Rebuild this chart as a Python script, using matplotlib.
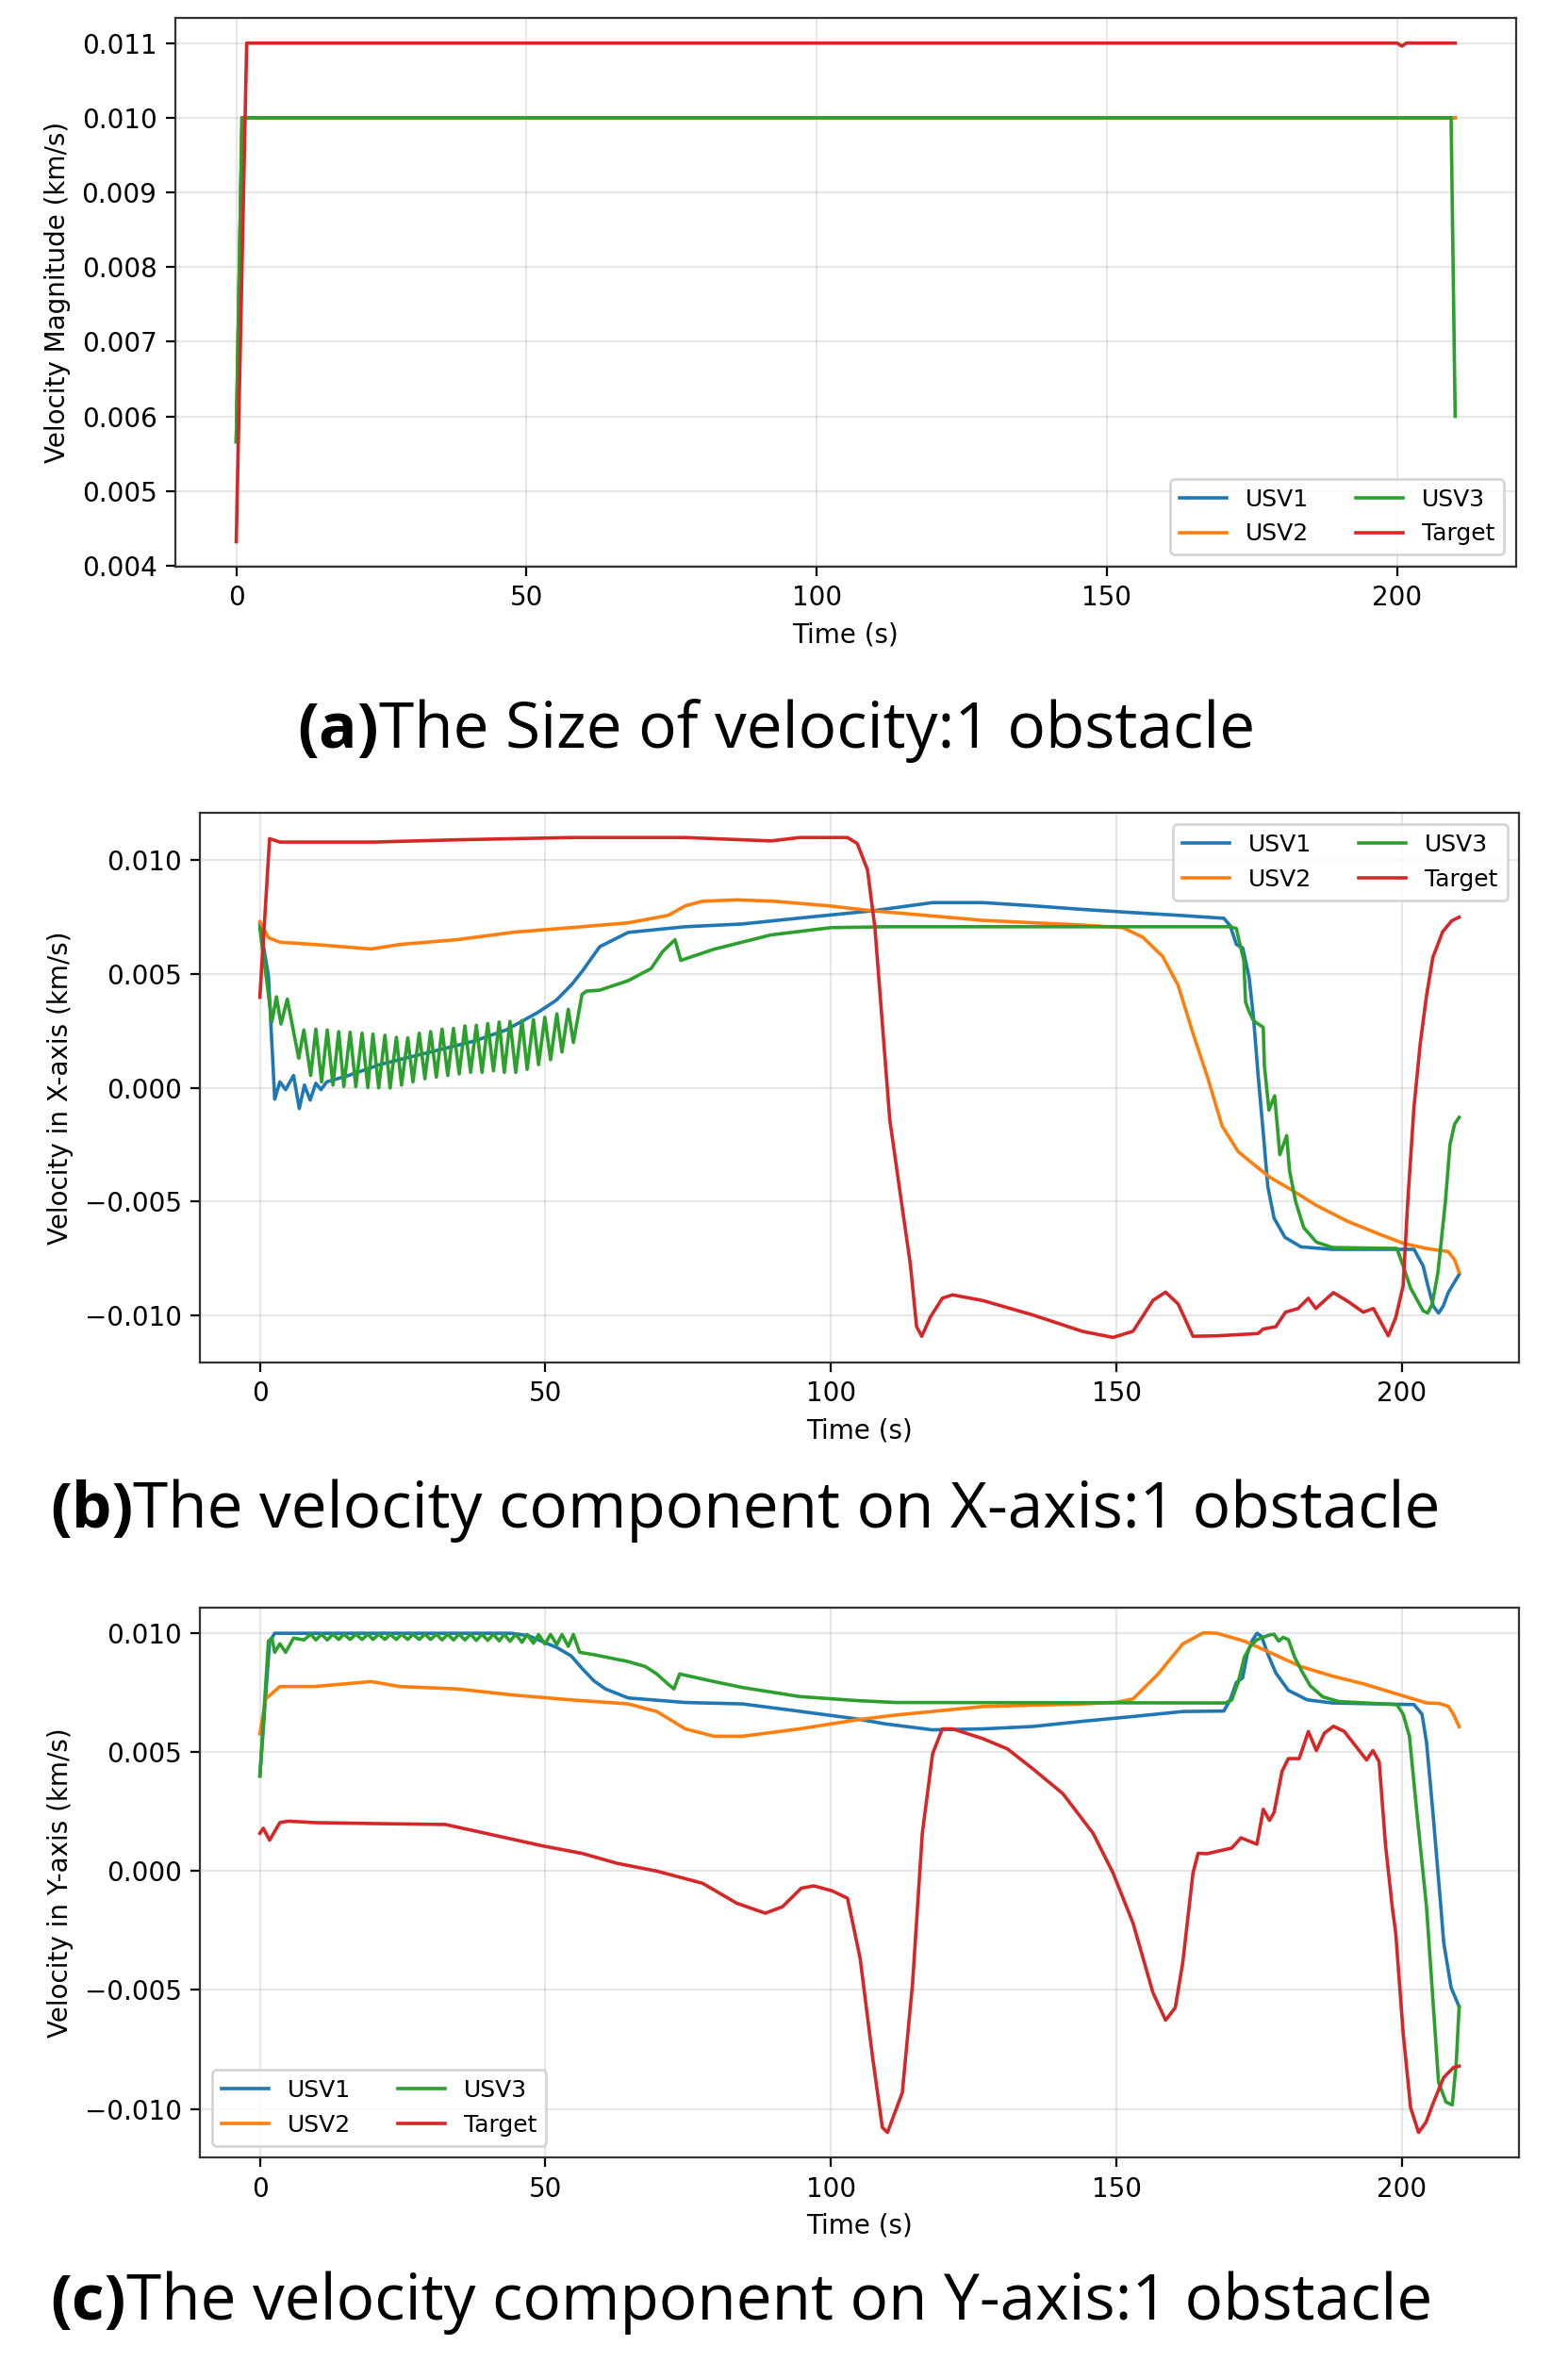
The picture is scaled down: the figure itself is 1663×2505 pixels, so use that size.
import matplotlib
matplotlib.use("Agg")
import matplotlib.pyplot as plt

# ---- data (velocities in km/s, time in s) ----

# (a) velocity magnitude
a_t_usv1 = [0, 1.0, 210.0]
a_v_usv1 = [0.00566, 0.0100, 0.0100]
a_t_usv2 = [0, 1.0, 210.0]
a_v_usv2 = [0.00566, 0.0100, 0.0100]
a_t_usv3 = [0, 1.0, 209.3, 210.0]
a_v_usv3 = [0.00566, 0.0100, 0.0100, 0.0060]
a_t_target = [0, 1.8, 200.0, 200.8, 201.6, 210.0]
a_v_target = [0.00432, 0.0110, 0.0110, 0.01096, 0.0110, 0.0110]

# (b) velocity on X axis
b_t_usv1 = [0, 1.5, 2.6, 3.5, 4.5, 5.9, 6.9, 7.8, 8.8, 9.8, 10.7, 11.7, 15.5, 21.0, 26.6,
            32.1, 37.6, 43.1, 48.6, 51.9, 54.6, 56.5, 59.5, 64.5, 74.5, 84.5, 94.5, 107.3,
            117.8, 126.6, 135.3, 144.1, 152.9, 161.6, 168.8, 169.9, 171.0, 172.1, 173.2,
            174.0, 174.8, 175.7, 176.5, 177.6, 179.5, 182.3, 187.8, 202.1, 203.7, 204.5,
            205.5, 206.4, 207.2, 208.1, 210.0]
b_v_usv1 = [0.0072, 0.0049, -0.0005, 0.00026, -0.00008, 0.00054, -0.00091, 0.00012,
            -0.00054, 0.0002, -0.00008, 0.00026, 0.00054, 0.00102, 0.00137, 0.00171,
            0.00206, 0.00254, 0.0033, 0.00385, 0.00454, 0.00514, 0.0062, 0.00683, 0.00708,
            0.0072, 0.00746, 0.00778, 0.00814, 0.00814, 0.0080, 0.00784, 0.0077, 0.00757,
            0.00745, 0.00713, 0.0063, 0.00615, 0.0049, 0.00308, 0.00056, -0.00196,
            -0.00434, -0.00573, -0.00657, -0.00699, -0.0071, -0.0071, -0.00783, -0.00867,
            -0.0096, -0.0099, -0.0096, -0.0090, -0.0082]

b_t_usv2 = [0, 1.5, 3.5, 9.5, 14.5, 19.5, 24.5, 34.5, 44.5, 54.5, 64.5, 71.5, 74.5, 77.5,
            83.5, 90.0, 99.5, 107.3, 126.6, 144.1, 151.1, 154.6, 158.1, 160.8, 163.4, 166.0,
            168.5, 171.3, 174.0, 176.8, 180.6, 185.0, 190.5, 196.0, 200.4, 204.3, 208.1,
            209.2, 210.0]
b_v_usv2 = [0.0073, 0.0066, 0.0064, 0.0063, 0.0062, 0.0061, 0.0063, 0.00651, 0.00684,
            0.00704, 0.00725, 0.00758, 0.0080, 0.0082, 0.00826, 0.0082, 0.0080, 0.00778,
            0.00736, 0.00715, 0.00704, 0.00662, 0.00577, 0.0045, 0.00239, 0.00042,
            -0.00168, -0.0028, -0.00336, -0.00392, -0.00448, -0.00517, -0.00587, -0.00643,
            -0.00685, -0.00706, -0.0072, -0.00755, -0.0081]

b_t_usv3 = [0, 1.2, 2.1, 2.9, 3.7, 4.8, 6.8,
            7.7, 8.9, 9.8, 10.8, 11.8, 12.8, 13.8, 14.7, 15.8, 16.8, 17.9, 18.9, 19.8, 20.8,
            21.9, 22.8, 23.9, 24.8, 25.9, 26.8, 27.9, 28.9, 29.9, 30.9, 31.9, 32.9, 33.9,
            34.9, 35.9, 36.9, 37.9, 38.9, 39.9, 40.9, 41.9, 42.8, 43.8, 44.8, 45.9, 46.8,
            47.9, 48.8, 49.9, 50.9, 52.0, 52.9, 54.0, 54.9,
            56.4, 57.2, 59.5, 64.5, 68.5, 70.5, 72.7, 73.7, 79.5, 89.5, 100.0, 110.0, 169.9,
            171.0, 171.5, 172.3, 172.6, 173.2, 174.0, 175.7, 175.9, 176.7, 177.7, 178.6,
            179.8, 180.3, 181.4, 182.8, 185.0, 187.8, 199.1, 200.2, 201.5, 203.7, 204.5,
            205.3, 206.3, 207.6, 208.4, 209.2, 210.0]
b_v_usv3 = [0.0070, 0.0047, 0.0029, 0.0040, 0.0028, 0.0039, 0.0013,
            0.00254, 0.00054, 0.00258, 0.00026, 0.00254, 0.00012, 0.00247, 0.00006,
            0.00244, 0.00005, 0.0024, 0.00001, 0.00236, 0.0, 0.00231, -0.00001, 0.00222,
            0.00012, 0.0022, 0.00026, 0.0024, 0.0004, 0.00247, 0.00047, 0.00258, 0.00054,
            0.00261, 0.00061, 0.00272, 0.00068, 0.00275, 0.00068, 0.00282, 0.00075,
            0.00289, 0.00068, 0.00292, 0.00068, 0.00296, 0.00081, 0.0030, 0.00102, 0.0031,
            0.00123, 0.00325, 0.00157, 0.00345, 0.00199,
            0.0041, 0.00425, 0.00429, 0.00471, 0.00524, 0.00598, 0.00651, 0.0056, 0.00609,
            0.00672, 0.00704, 0.00708, 0.00708, 0.0070, 0.00643, 0.0056, 0.00378, 0.00336,
            0.00294, 0.00266, 0.00098, -0.00098, -0.00035, -0.00294, -0.0021, -0.00364,
            -0.00503, -0.00615, -0.00678, -0.00702, -0.00706, -0.00783, -0.0088, -0.0098,
            -0.0099, -0.0095, -0.0081, -0.0050, -0.0025, -0.0016, -0.0013]

b_t_target = [0, 1.7, 3.5, 20.0, 34.5, 54.5, 74.5, 84.5, 89.5, 94.5, 102.9, 104.6, 106.4,
              107.7, 109.0, 110.3, 112.1, 113.9, 115.0, 115.9, 117.4, 119.5, 121.3, 126.6,
              135.3, 144.1, 149.4, 152.9, 156.4, 158.6, 160.8, 163.4, 167.6, 174.8, 175.7,
              177.9, 179.6, 181.8, 183.6, 184.9, 186.2, 188.0, 190.6, 193.2, 195.0, 196.3,
              197.6, 198.9, 200.2, 201.0, 202.1, 203.2, 204.3, 205.4, 207.1, 208.7, 210.0]
b_v_target = [0.00398, 0.01095, 0.0108, 0.0108, 0.0109, 0.0110, 0.0110, 0.0109, 0.01085,
              0.0110, 0.0110, 0.01074, 0.00958, 0.00704, 0.00282, -0.0014, -0.00459,
              -0.00775, -0.0105, -0.01092, -0.01008, -0.00925, -0.0091, -0.00935, -0.00998,
              -0.01071, -0.01097, -0.0107, -0.00934, -0.00898, -0.0095, -0.01092, -0.0109,
              -0.0108, -0.0106, -0.0105, -0.00986, -0.0097, -0.00925, -0.0097, -0.0094,
              -0.0090, -0.0094, -0.00986, -0.0097, -0.0103, -0.0109, -0.0101, -0.0087,
              -0.00503, -0.00084, 0.00196, 0.00406, 0.00573, 0.00685, 0.00734, 0.0075]

# (c) velocity on Y axis
c_t_usv1 = [0, 1.7, 2.6, 44.0, 47.0, 49.5, 52.0, 54.5, 56.5, 58.5, 60.5, 64.5, 74.5, 84.5,
            94.5, 104.5, 109.5, 117.8, 126.6, 135.3, 144.1, 152.9, 161.6, 168.8, 169.9,
            171.0, 172.1, 172.9, 173.7, 174.6, 175.4, 176.5, 177.9, 180.1, 183.4, 187.8,
            202.1, 203.5, 204.3, 205.4, 206.8, 207.3, 208.6, 210.0]
c_v_usv1 = [0.0040, 0.00965, 0.0100, 0.0100, 0.0099, 0.00965, 0.0094, 0.00905, 0.0085,
            0.0080, 0.00766, 0.00728, 0.00709, 0.00703, 0.00672, 0.0064, 0.00619, 0.00594,
            0.00598, 0.00608, 0.0063, 0.0065, 0.00671, 0.00673, 0.0072, 0.00793, 0.00813,
            0.00913, 0.00967, 0.0100, 0.00987, 0.00913, 0.00833, 0.0076, 0.0072, 0.00707,
            0.0070, 0.0066, 0.0054, 0.0025, -0.0015, -0.0030, -0.0049, -0.0057]

c_t_usv2 = [0, 1.0, 3.5, 9.5, 19.5, 24.5, 34.5, 44.5, 54.5, 64.5, 69.5, 74.5, 79.5, 84.5,
            94.5, 104.5, 111.3, 126.6, 144.1, 150.0, 152.9, 157.3, 161.6, 165.2, 167.6,
            172.4, 176.8, 182.3, 187.8, 193.3, 198.8, 204.3, 206.5, 208.1, 209.0, 210.0]
c_v_usv2 = [0.00577, 0.00724, 0.00776, 0.00776, 0.00797, 0.00776, 0.00766, 0.0074, 0.0072,
            0.00703, 0.00671, 0.00598, 0.00567, 0.00567, 0.00598, 0.00636, 0.00656, 0.00692,
            0.00703, 0.0071, 0.00724, 0.00829, 0.00955, 0.01002, 0.0100, 0.00967, 0.0092,
            0.0086, 0.0082, 0.00787, 0.00747, 0.00707, 0.00705, 0.00693, 0.0066, 0.00607]

c_t_usv3 = [0, 1.5, 2.1, 2.6, 3.5, 4.5, 5.9,
            7.7, 8.9, 9.8, 10.8, 11.8, 12.8, 13.8, 14.7, 15.8, 16.8, 17.9, 18.9, 19.8, 20.8,
            21.9, 22.8, 23.9, 24.8, 25.9, 26.8, 27.9, 28.9, 29.9, 30.9, 31.9, 32.9, 33.9,
            34.9, 35.9, 36.9, 37.9, 38.9, 39.9, 40.9, 41.9, 42.8, 43.8, 44.8, 45.9, 46.8,
            47.9, 48.8, 49.9, 50.9, 52.0, 52.9, 54.0, 54.9,
            56.0, 58.5, 64.5, 67.5, 69.5, 71.5, 72.5, 73.5, 79.5, 84.5, 94.5, 104.5, 111.3,
            169.1, 170.2, 171.3, 172.4, 173.5, 174.6, 176.8, 177.6, 178.4, 179.2, 180.1,
            181.2, 182.3, 183.9, 186.1, 188.9, 199.1, 200.2, 201.3, 202.6, 204.3, 206.4,
            207.7, 208.8, 209.5, 210.0]
c_v_usv3 = [0.0040, 0.00967, 0.0098, 0.0092, 0.00956, 0.0092, 0.0098,
            0.00972, 0.00996, 0.00972, 0.00996, 0.00972, 0.00996, 0.00974, 0.00996,
            0.00974, 0.00996, 0.00974, 0.00996, 0.00974, 0.00996, 0.00974, 0.00996,
            0.00974, 0.00996, 0.00974, 0.00996, 0.00974, 0.00996, 0.00974, 0.00996,
            0.00972, 0.00996, 0.00972, 0.00996, 0.00972, 0.00996, 0.0097, 0.00996, 0.0097,
            0.00996, 0.00968, 0.00996, 0.00966, 0.00996, 0.00962, 0.00995, 0.00958,
            0.00995, 0.00955, 0.00995, 0.00952, 0.00995, 0.00945, 0.00995,
            0.0092, 0.0091, 0.00881, 0.0086, 0.00829, 0.00786, 0.00766, 0.00829, 0.00797,
            0.00772, 0.00734, 0.00717, 0.00709, 0.00707, 0.0072, 0.00793, 0.0090, 0.00947,
            0.00973, 0.00993, 0.00996, 0.00967, 0.00983, 0.00973, 0.0090, 0.00847, 0.0078,
            0.00733, 0.00713, 0.0070, 0.0066, 0.00567, 0.00247, -0.00153, -0.00888,
            -0.00971, -0.00983, -0.00805, -0.0057]

c_t_target = [0, 0.6, 1.7, 3.5, 5.0, 9.5, 19.5, 32.5, 39.5, 49.5, 56.5, 62.5, 69.5, 77.5,
              83.5, 88.5, 91.5, 94.8, 97.0, 100.2, 102.9, 105.1, 107.3, 109.0, 109.9, 112.5,
              114.3, 116.0, 117.8, 119.5, 121.3, 126.6, 130.9, 135.3, 140.6, 145.9, 149.4,
              152.9, 156.4, 158.6, 160.3, 161.6, 163.4, 164.3, 165.8, 170.2, 171.8, 174.6,
              175.7, 176.8, 177.6, 179.0, 180.1, 182.0, 183.6, 185.0, 186.4, 188.0, 189.9,
              193.8, 194.9, 196.0, 197.1, 198.3, 198.9, 200.2, 201.5, 202.9, 204.2, 205.5,
              207.3, 209.0, 210.0]
c_v_target = [0.00159, 0.0018, 0.0013, 0.00204, 0.0021, 0.00204, 0.0020, 0.00196, 0.00159,
              0.00106, 0.00074, 0.00033, 0.0, -0.00051, -0.00135, -0.00177, -0.0015,
              -0.00072, -0.00062, -0.00083, -0.00114, -0.00365, -0.00784, -0.01078,
              -0.01099, -0.00931, -0.0047, 0.00159, 0.00493, 0.00598, 0.00598, 0.00557,
              0.00514, 0.00431, 0.00326, 0.00159, -0.00008, -0.00219, -0.00512, -0.00627,
              -0.00574, -0.00386, -0.00008, 0.00075, 0.00073, 0.00097, 0.0014, 0.00113,
              0.0026, 0.00213, 0.00247, 0.0042, 0.00473, 0.00473, 0.00587, 0.00507, 0.0058,
              0.00609, 0.00587, 0.00467, 0.00507, 0.0046, 0.00113, -0.00153, -0.0026,
              -0.0068, -0.00994, -0.01099, -0.01056, -0.00973, -0.00868, -0.00826, -0.0082]

names = ["USV1", "USV2", "USV3", "Target"]
colors = ["tab:blue", "tab:orange", "tab:green", "tab:red"]

panels = [
    ([a_t_usv1, a_t_usv2, a_t_usv3, a_t_target], [a_v_usv1, a_v_usv2, a_v_usv3, a_v_target],
     "Velocity Magnitude (km/s)", "lower right", [0.1118, 0.7601, 0.8551, 0.2322]),
    ([b_t_usv1, b_t_usv2, b_t_usv3, b_t_target], [b_v_usv1, b_v_usv2, b_v_usv3, b_v_target],
     "Velocity in X-axis (km/s)", "upper right", [0.1275, 0.4232, 0.8413, 0.2328]),
    ([c_t_usv1, c_t_usv2, c_t_usv3, c_t_target], [c_v_usv1, c_v_usv2, c_v_usv3, c_v_target],
     "Velocity in Y-axis (km/s)", "lower left", [0.1275, 0.0866, 0.8413, 0.2327]),
]

captions = [
    (0.1894, 0.6834, "(a)", "The Size of velocity:1 obstacle"),
    (0.0319, 0.3533, "(b)", "The velocity component on X-axis:1 obstacle"),
    (0.0319, 0.0180, "(c)", "The velocity component on Y-axis:1 obstacle"),
]

plt.rcParams["font.size"] = 10

fig = plt.figure(figsize=(1663 / 200, 2505 / 200), dpi=200)

for ts, vs, ylab, loc, pos in panels:
    ax = fig.add_axes(pos)
    for t, v, name, col in zip(ts, vs, names, colors):
        ax.plot(t, v, color=col, lw=1.3, label=name)
    ax.set_xlabel("Time (s)")
    ax.set_ylabel(ylab)
    ax.grid(True, alpha=0.3)
    ax.legend(loc=loc, ncol=2, fontsize=9)
    for s in ax.spines.values():
        s.set_color("#333333")

renderer = fig.canvas.get_renderer()
for x, y, tag, text in captions:
    t1 = fig.text(x, y, tag, fontsize=24.3, fontweight="bold", family="Open Sans",
                  va="baseline")
    bb = t1.get_window_extent(renderer=renderer)
    fig.text(bb.x1 / fig.bbox.width, y, text, fontsize=24.3, family="Open Sans",
             va="baseline")

fig.savefig("out.png", dpi=200)
